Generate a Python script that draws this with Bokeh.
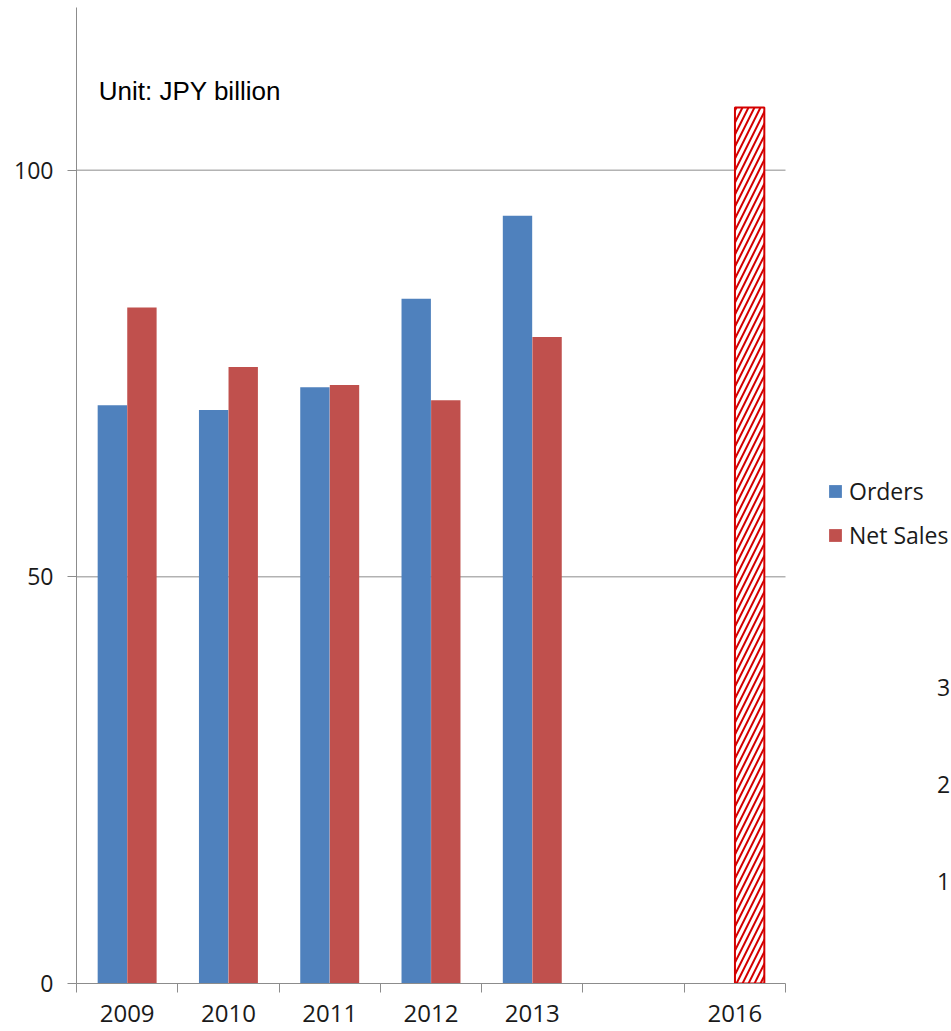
from bokeh.plotting import figure
from bokeh.models import (Range1d, FixedTicker, Legend, LegendItem, Label,
                          ColumnDataSource)
from bokeh.embed import file_html
from bokeh.resources import INLINE

# Fiscal years on the category axis (one empty slot before the target year)
years = ["2009", "2010", "2011", "2012", "2013", "", "2016"]
orders = [71.1, 70.5, 73.3, 84.2, 94.4]
net_sales = [83.1, 75.8, 73.6, 71.7, 79.5]
target_year = "2016"
target_value = 107.7
y_ticks = [0, 50, 100]
side_labels = ["3", "2", "1"]

ORDERS_COLOR = "#4F81BD"
SALES_COLOR = "#C0504D"
TARGET_COLOR = "#D40000"
AXIS_COLOR = "#8C8C8C"
TEXT_COLOR = "#1A1A1A"
TICK_FONT = "Open Sans"

BAR_W = 0.29
OFFSET = 0.146

# plot area: the category axis covers 709 px, the frame runs on to the right
# edge so the legend and the side numbers sit inside it
AXIS_PX = 709
FRAME_PX = 875
n_slots = len(years)
x_end = n_slots * FRAME_PX / AXIS_PX

centers = [i + 0.5 for i in range(n_slots)]
hist_years = years[:len(orders)]

orders_src = ColumnDataSource(dict(
    x=[centers[years.index(y)] - OFFSET for y in hist_years],
    top=orders))
sales_src = ColumnDataSource(dict(
    x=[centers[years.index(y)] + OFFSET for y in hist_years],
    top=net_sales))
target_src = ColumnDataSource(dict(
    x=[centers[years.index(target_year)] + OFFSET],
    top=[target_value]))

p = figure(width=951, height=1031,
           x_range=Range1d(0, x_end), y_range=Range1d(0, 120),
           output_backend="svg", toolbar_location=None,
           min_border_left=76, min_border_right=0,
           min_border_top=7, min_border_bottom=48)
p.outline_line_color = None
p.background_fill_color = "white"
p.border_fill_color = "white"

# horizontal gridlines limited to the category axis span
grid_vals = [v for v in y_ticks if v > 0]
p.segment(x0=[0] * len(grid_vals), x1=[n_slots] * len(grid_vals),
          y0=grid_vals, y1=grid_vals, line_color=AXIS_COLOR, line_width=1)

r_orders = p.vbar(x="x", top="top", width=BAR_W, bottom=0, source=orders_src,
                  fill_color=ORDERS_COLOR, line_color=None)
r_sales = p.vbar(x="x", top="top", width=BAR_W, bottom=0, source=sales_src,
                 fill_color=SALES_COLOR, line_color=None)
p.vbar(x="x", top="top", width=BAR_W, bottom=0, source=target_src,
       fill_color="white", line_color=TARGET_COLOR, line_width=2,
       hatch_pattern="/", hatch_color=TARGET_COLOR, hatch_scale=12,
       hatch_weight=2)

# x axis: labels centred in each slot, tick marks on the slot boundaries
xa = p.xaxis[0]
xa.bounds = (0, n_slots)
xa.ticker = FixedTicker(ticks=centers, minor_ticks=list(range(n_slots + 1)))
xa.major_label_overrides = {c: y for c, y in zip(centers, years)}
xa.major_tick_in = 0
xa.major_tick_out = 0
xa.minor_tick_in = 0
xa.minor_tick_out = 9
xa.minor_tick_line_color = AXIS_COLOR
xa.axis_line_color = AXIS_COLOR
xa.major_label_text_font = TICK_FONT
xa.major_label_text_font_size = "24px"
xa.major_label_text_color = TEXT_COLOR
xa.major_label_standoff = 12

ya = p.yaxis[0]
ya.ticker = FixedTicker(ticks=y_ticks)
ya.major_tick_in = 0
ya.major_tick_out = 9
ya.major_tick_line_color = AXIS_COLOR
ya.minor_tick_line_color = None
ya.axis_line_color = AXIS_COLOR
ya.major_label_text_font = TICK_FONT
ya.major_label_text_font_size = "23px"
ya.major_label_text_color = TEXT_COLOR
ya.major_label_standoff = 14

p.xgrid.visible = False
p.ygrid.visible = False

legend = Legend(items=[LegendItem(label="Orders", renderers=[r_orders]),
                       LegendItem(label="Net Sales", renderers=[r_sales])],
                location=(751, 432), orientation="vertical",
                glyph_width=16, glyph_height=16, label_height=30,
                spacing=12, padding=0, margin=0, label_standoff=6,
                border_line_color=None, background_fill_alpha=0,
                label_text_font=TICK_FONT, label_text_font_size="23px",
                label_text_color=TEXT_COLOR)
p.add_layout(legend)

p.add_layout(Label(x=0.22, y=109.7, text="Unit: JPY billion",
                   text_font="Liberation Sans", text_font_size="26px",
                   text_color="black", text_baseline="alphabetic"))

for i, s in enumerate(side_labels):
    p.add_layout(Label(x=867, y=296 - 97 * i, x_units="screen", y_units="screen",
                       text=s, text_align="center", text_baseline="middle",
                       text_font=TICK_FONT, text_font_size="23px",
                       text_color=TEXT_COLOR))

open("out.html", "w").write(file_html(p, INLINE))
